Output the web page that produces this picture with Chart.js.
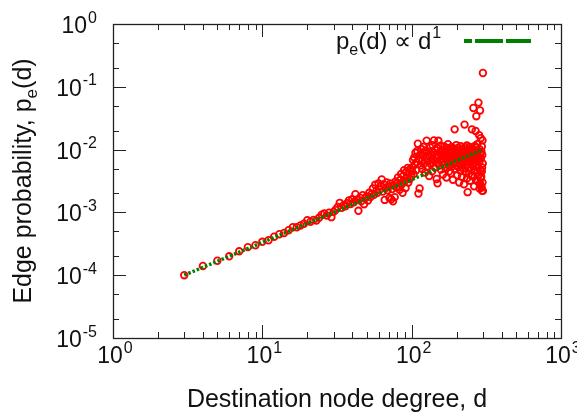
<!DOCTYPE html>
<html>
<head>
<meta charset="utf-8">
<script src="https://cdn.jsdelivr.net/npm/chart.js@4/dist/chart.umd.min.js"></script>
<style>
  html, body { margin: 0; padding: 0; background: #fff; }
  #wrap { width: 577px; height: 417px; }
</style>
</head>
<body>
<div id="wrap"><canvas id="myChart" width="577" height="417"></canvas></div>
<script>
// measured points: destination node degree d and edge probability pe(d)
var degree = [
  3, 4, 5, 6, 7, 8, 9, 10, 11, 12, 13, 14, 15, 16, 17, 18, 19, 20,
  21, 22, 23, 24, 25, 26, 27, 28, 29, 30,
  31, 32, 33, 34, 35, 36, 37, 38, 39, 40, 41, 42, 43, 44, 45, 46, 47, 48, 49, 50,
  51, 52, 53, 54, 55, 56, 57, 58, 59, 60, 61, 62, 63, 64, 65, 66, 67, 68, 69, 70,
  71, 72, 73, 74, 75, 76, 77, 78, 79, 80, 81, 82, 83, 84, 85, 86, 87, 88, 89, 90,
  91, 92, 93, 94, 95, 96, 97, 98, 99, 100,
  101, 102, 103, 104, 105, 106, 107, 108, 109, 110,
  111, 112, 113, 114, 115, 116, 117, 118, 119, 120,
  121, 122, 123, 124, 125, 126, 127, 128, 129, 130,
  131, 132, 133, 134, 135, 136, 137, 138, 139, 140,
  141, 142, 143, 144, 145, 146, 147, 148, 149, 150,
  151, 152, 153, 154, 155, 156, 157, 158, 159, 160,
  161, 162, 163, 164, 165, 166, 167, 168, 169, 170,
  171, 172, 173, 174, 175, 176, 177, 178, 179, 180,
  181, 182, 183, 184, 185, 186, 187, 188, 189, 190,
  191, 192, 193, 194, 195, 196, 197, 198, 199, 200,
  201, 202, 203, 204, 205, 206, 207, 208, 209, 210,
  211, 212, 213, 214, 215, 216, 217, 218, 219, 220,
  221, 222, 223, 224, 225, 226, 227, 228, 229, 230,
  231, 232, 233, 234, 235, 236, 237, 238, 239, 240,
  241, 242, 243, 244, 245, 246, 247, 248, 249, 250,
  251, 252, 253, 254, 255, 256, 257, 258, 259, 260,
  261, 262, 263, 264, 265, 266, 267, 268, 269, 270,
  271, 272, 273, 274, 275, 276, 277, 278, 279, 280,
  281, 282, 283, 284, 285, 286, 287, 288, 289, 290,
  291, 292, 293, 294, 295, 296, 297, 298, 299, 300,
  268, 285, 287, 290, 295, 298, 300, 296, 292, 280
];
var edgeProb = [
  1.0e-4, 1.4e-4, 1.7e-4, 2.0e-4, 2.4e-4, 2.8e-4, 3.0e-4, 3.4e-4, 3.6e-4, 4.1e-4,
  4.5e-4, 4.7e-4, 5.2e-4, 5.8e-4, 5.8e-4, 6.2e-4, 6.6e-4, 7.5e-4,
  7.1e-4, 7.6e-4, 7.4e-4, 8.2e-4, 9.2e-4, 9.6e-4, 8.9e-4, 9.9e-4, 8.4e-4, 1.02e-3,
  1.10e-3, 1.22e-3, 1.42e-3, 1.18e-3, 1.30e-3, 1.25e-3, 1.40e-3, 1.55e-3, 1.36e-3, 1.62e-3,
  1.45e-3, 1.95e-3, 1.60e-3, 1.06e-3, 1.72e-3, 1.50e-3, 1.88e-3, 1.35e-3, 1.70e-3, 1.80e-3,
  1.55e-3, 2.05e-3, 1.75e-3, 1.95e-3, 2.40e-3, 1.90e-3, 2.75e-3, 2.20e-3, 2.05e-3, 2.90e-3,
  2.30e-3, 2.60e-3, 3.35e-3, 2.15e-3, 2.80e-3, 1.58e-3, 2.45e-3, 3.00e-3, 2.25e-3, 2.60e-3,
  1.70e-3, 2.90e-3, 1.62e-3, 2.35e-3, 1.50e-3, 2.70e-3, 1.75e-3, 3.10e-3, 2.50e-3, 2.95e-3,
  3.60e-3, 2.60e-3, 2.30e-3, 3.30e-3, 4.10e-3, 2.80e-3, 2.05e-3, 3.80e-3, 4.70e-3, 3.20e-3,
  2.45e-3, 4.40e-3, 3.60e-3, 5.10e-3, 3.00e-3, 4.20e-3, 3.40e-3, 4.90e-3, 3.80e-3, 4.50e-3,
  0.0052, 0.0068, 0.0041, 0.0075, 0.0058, 0.0089, 0.0047, 0.0063, 0.0095, 0.0124,
  0.0020, 0.0071, 0.0024, 0.0084, 0.0056, 0.0102, 0.0066, 0.0049, 0.0079, 0.0110,
  0.0060, 0.0088, 0.0043, 0.0097, 0.0072, 0.0139, 0.0054, 0.0081, 0.0065, 0.0093,
  0.0038, 0.0076, 0.0108, 0.0059, 0.0085, 0.0070, 0.0045, 0.0118, 0.0062, 0.0091,
  0.0140, 0.0067, 0.0052, 0.0098, 0.0074, 0.0083, 0.0034, 0.0105, 0.0029, 0.0061,
  0.0138, 0.0078, 0.0056, 0.0090, 0.0068, 0.0115, 0.0048, 0.0082, 0.0063, 0.0100,
  0.0071, 0.0040, 0.0087, 0.0058, 0.0112, 0.0075, 0.0095, 0.0051, 0.0069, 0.0084,
  0.0036, 0.0106, 0.0066, 0.0079, 0.0122, 0.0057, 0.0092, 0.0045, 0.0073, 0.0088,
  0.0062, 0.0099, 0.0042, 0.0081, 0.0110, 0.0054, 0.0070, 0.0094, 0.0033, 0.0077,
  0.0103, 0.0060, 0.0086, 0.0210, 0.0049, 0.0072, 0.0097, 0.0065, 0.0118, 0.0056,
  0.0083, 0.0039, 0.0091, 0.0068, 0.0107, 0.0053, 0.0078, 0.0030, 0.0095, 0.0064,
  0.0087, 0.0046, 0.0113, 0.0071, 0.0058, 0.0099, 0.0037, 0.0080, 0.0066, 0.0104,
  0.0050, 0.0090, 0.0075, 0.0028, 0.0084, 0.0250, 0.0061, 0.0109, 0.0044, 0.0079,
  0.0096, 0.0057, 0.0070, 0.0116, 0.0035, 0.0088, 0.0021, 0.0064, 0.0101, 0.0052,
  0.0083, 0.0041, 0.0094, 0.0068, 0.0110, 0.0032, 0.0077, 0.0059, 0.0098, 0.0047,
  0.0086, 0.0065, 0.0210, 0.0074, 0.0038, 0.0103, 0.0055, 0.0091, 0.0460, 0.0069,
  0.0080, 0.0026, 0.0097, 0.0061, 0.0114, 0.0045, 0.0085, 0.0072, 0.0033, 0.0107,
  0.0340, 0.0058, 0.0089, 0.0042, 0.0122, 0.0067, 0.0031, 0.0095, 0.0053, 0.0560,
  0.0078, 0.0040, 0.0170, 0.0064, 0.0101, 0.0029, 0.0420, 0.0086, 0.0047, 0.0152,
  0.0073, 0.0037, 0.0093, 0.0025, 0.0112, 0.0022, 0.0082, 0.0140, 0.0060, 0.1660,
  0.0198, 0.0024, 0.0028, 0.0035, 0.0045, 0.0030, 0.0022, 0.0052, 0.0026, 0.0039
];

// fitted line pe(d) ~ d^1
var fitDegree = [3, 300];
var fitProb = [1e-4, 1e-2];

// axis decades and exponent labels
var xMajor = [1, 10, 100, 1000];
var xExp = ["0", "1", "2", "3"];
var yMajor = [1, 1e-1, 1e-2, 1e-3, 1e-4, 1e-5];
var yExp = ["0", "-1", "-2", "-3", "-4", "-5"];

var FONT = "'Liberation Sans', Arial, sans-serif";

function pts(xs, ys) {
  return xs.map(function (x, i) { return { x: x, y: ys[i] }; });
}

// "base" followed by a raised exponent
function supText(c, base, sup, x, y, size, align) {
  var sSize = Math.round(size * 0.68);
  c.font = size + "px " + FONT;
  var w1 = c.measureText(base).width;
  c.font = sSize + "px " + FONT;
  var w2 = c.measureText(sup).width;
  var w = w1 + w2 + 1;
  var x0 = align === "right" ? x - w : align === "center" ? x - w / 2 : x;
  c.textAlign = "left";
  c.textBaseline = "alphabetic";
  c.font = size + "px " + FONT;
  c.fillText(base, x0, y);
  c.font = sSize + "px " + FONT;
  c.fillText(sup, x0 + w1 + 1, y - size * 0.45);
}

var frame = {
  id: "frame",
  afterDraw: function (chart) {
    var c = chart.ctx, a = chart.chartArea;
    var xs = chart.scales.x, ys = chart.scales.y;
    c.save();
    c.strokeStyle = "#222";
    c.lineWidth = 1.3;
    c.strokeRect(Math.round(a.left) + 0.5, Math.round(a.top) + 0.5,
      Math.round(a.right - a.left), Math.round(a.bottom - a.top));

    c.lineWidth = 1;
    function tickX(v, len) {
      var px = Math.round(xs.getPixelForValue(v)) + 0.5;
      c.beginPath();
      c.moveTo(px, a.bottom); c.lineTo(px, a.bottom - len);
      c.moveTo(px, a.top); c.lineTo(px, a.top + len);
      c.stroke();
    }
    function tickY(v, len) {
      var py = Math.round(ys.getPixelForValue(v)) + 0.5;
      c.beginPath();
      c.moveTo(a.left, py); c.lineTo(a.left + len, py);
      c.moveTo(a.right, py); c.lineTo(a.right - len, py);
      c.stroke();
    }
    xMajor.forEach(function (v, i) {
      tickX(v, 13);
      if (i < xMajor.length - 1) {
        for (var m = 2; m <= 9; m++) tickX(v * m, 6);
      }
    });
    yMajor.forEach(function (v, i) {
      tickY(v, 13);
      if (i > 0) { tickY(v * 2, 6); tickY(v * 5, 6); }
    });

    // tick labels
    c.fillStyle = "#111";
    xMajor.forEach(function (v, i) {
      supText(c, "10", xExp[i], xs.getPixelForValue(v) + 2, a.bottom + 25, 23, "center");
    });
    yMajor.forEach(function (v, i) {
      supText(c, "10", yExp[i], a.left - 16, ys.getPixelForValue(v) + 9, 23, "right");
    });

    // axis titles
    c.font = "25px " + FONT;
    c.textAlign = "center";
    c.textBaseline = "alphabetic";
    c.fillText("Destination node degree, d", (a.left + a.right) / 2, 407);

    c.save();
    c.translate(31, (a.top + a.bottom) / 2);
    c.rotate(-Math.PI / 2);
    var t1 = "Edge probability, p", t2 = "e", t3 = "(d)";
    c.font = "25px " + FONT;
    var w1 = c.measureText(t1).width, w3 = c.measureText(t3).width;
    c.font = "17px " + FONT;
    var w2 = c.measureText(t2).width;
    var x0 = -(w1 + w2 + w3) / 2;
    c.textAlign = "left";
    c.font = "25px " + FONT;
    c.fillText(t1, x0, 0);
    c.font = "17px " + FONT;
    c.fillText(t2, x0 + w1, 6);
    c.font = "25px " + FONT;
    c.fillText(t3, x0 + w1 + w2, 0);
    c.restore();

    // key
    c.textAlign = "left";
    c.font = "24px " + FONT;
    var k1 = "p", k3 = "(d) \u221d d";
    var kw1 = c.measureText(k1).width;
    c.font = "16px " + FONT;
    var kw2 = c.measureText("e").width;
    c.font = "24px " + FONT;
    var kx = 336;
    c.fillText(k1, kx, 49);
    c.font = "16px " + FONT;
    c.fillText("e", kx + kw1, 55);
    c.font = "24px " + FONT;
    c.fillText(k3, kx + kw1 + kw2, 49);
    var kw3 = c.measureText(k3).width;
    c.font = "16px " + FONT;
    c.fillText("1", kx + kw1 + kw2 + kw3 + 1, 38);

    c.strokeStyle = "#008000";
    c.lineWidth = 4;
    c.setLineDash([28, 3]);
    c.lineDashOffset = 20;
    c.beginPath();
    c.moveTo(464, 41);
    c.lineTo(531, 41);
    c.stroke();
    c.restore();
  }
};

var ctx = document.getElementById("myChart").getContext("2d");
var myChart = new Chart(ctx, {
  type: "scatter",
  data: {
    datasets: [
      {
        type: "line",
        data: pts(fitDegree, fitProb),
        borderColor: "#008000",
        borderWidth: 3.5,
        borderDash: [2.5, 2],
        pointRadius: 0,
        showLine: true,
        fill: false,
        order: 0,
      },
      {
        data: pts(degree, edgeProb),
        pointStyle: "circle",
        pointRadius: 3.3,
        borderWidth: 1.8,
        borderColor: "#ff0000",
        backgroundColor: "rgba(0,0,0,0)",
        order: 1,
      },
    ],
  },
  options: {
    responsive: false,
    animation: false,
    layout: { padding: { left: 0, right: 16, top: 24, bottom: 0 } },
    plugins: {
      legend: { display: false },
      tooltip: { enabled: false },
    },
    scales: {
      x: {
        type: "logarithmic",
        min: 1,
        max: 1000,
        grid: { display: false },
        border: { display: false },
        ticks: { display: false },
        afterFit: function (s) { s.height = 79; },
      },
      y: {
        type: "logarithmic",
        min: 1e-5,
        max: 1,
        grid: { display: false },
        border: { display: false },
        ticks: { display: false },
        afterFit: function (s) { s.width = 113; },
      },
    },
  },
  plugins: [frame],
});
</script>
</body>
</html>
